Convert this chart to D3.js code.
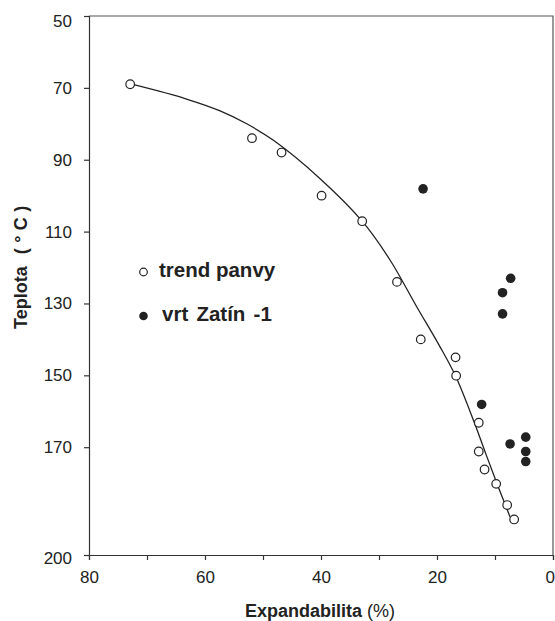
<!DOCTYPE html>
<html>
<head>
<meta charset="utf-8">
<script src="https://cdn.jsdelivr.net/npm/d3@7/dist/d3.min.js"></script>
<style>
  html, body { margin: 0; padding: 0; background: #fff; }
  svg { display: block; font-family: "Liberation Sans", Arial, Helvetica, sans-serif; }
</style>
</head>
<body>
<svg id="chart" width="555" height="621"></svg>
<script>
// ---- data ----
const trendX = [72.9, 51.9, 46.8, 39.9, 32.9, 26.9, 22.8, 16.8, 16.7, 12.8, 12.8, 11.8, 9.8, 7.9, 6.7];
const trendY = [69.0, 84.0, 88.0, 100.0, 107.1, 124.0, 140.0, 145.0, 150.1, 163.2, 171.2, 176.2, 180.2, 186.1, 190.1];

const zatinX = [22.4, 7.3, 8.7, 8.7, 12.3, 7.4, 4.7, 4.7, 4.7];
const zatinY = [98.1, 123.0, 127.0, 132.9, 158.1, 169.1, 167.2, 171.2, 174.0];

// fitted trend line
const curveX = [72.1, 63.2, 57.4, 52.8, 48.2, 40.2, 32.9, 28.1, 23.5, 19.5, 16.8, 13.6, 11.55, 9.5, 7.4];
const curveY = [69.2, 73.1, 76.4, 80.0, 84.6, 95.2, 107.1, 117.9, 130.9, 142.0, 150.2, 163.0, 172.0, 180.8, 189.4];

const xTicks = [80, 70, 60, 50, 40, 30, 20, 10, 0];
const xTickLabels = [80, 60, 40, 20, 0];
const yTicks = [50, 70, 90, 110, 130, 150, 170, 200];

const legendLabels = ["trend panvy", "vrt Zatín -1"];
const xTitle = "Expandabilita";
const xTitleUnit = "(%)";
const yTitle = "Teplota";
const yTitleUnit = "(°C)";

// ---- chart ----
const svg = d3.select("#chart");
const mLeft = 89, mRight = 553, mTop = 16, mBottom = 555;
const ink = "#222";

const x = d3.scaleLinear().domain([80, 0]).range([mLeft, mRight]);
const y = d3.scaleLinear().domain([50, 200]).range([mTop, mBottom]);

// frame
svg.append("path")
  .attr("d", `M${mLeft},${mTop}H${mRight}V${mBottom}`)
  .attr("fill", "none").attr("stroke", "#555").attr("stroke-width", 1.2);

// x axis
const xAxis = svg.append("g").attr("transform", `translate(0,${mBottom})`)
  .call(d3.axisBottom(x).tickValues(xTicks).tickSize(5).tickPadding(11)
    .tickFormat(d => xTickLabels.includes(d) ? d : ""));
xAxis.select(".domain").attr("stroke", "#333").attr("stroke-width", 1.2);
xAxis.selectAll(".tick line").attr("stroke", "#333").attr("stroke-width", 1.2);
xAxis.selectAll("text").attr("font-size", 17).attr("fill", ink)
  .attr("font-family", "\"Liberation Sans\", Arial, sans-serif");
xAxis.selectAll(".tick").filter(d => d === 0).select("text")
  .attr("text-anchor", "end").attr("dx", 1.5);

// y axis
const yAxis = svg.append("g").attr("transform", `translate(${mLeft},0)`)
  .call(d3.axisLeft(y).tickValues(yTicks).tickSize(5).tickPadding(12));
yAxis.select(".domain").attr("stroke", "#333").attr("stroke-width", 1.2);
yAxis.selectAll(".tick line").attr("stroke", "#333").attr("stroke-width", 1.2);
yAxis.selectAll("text").attr("font-size", 17).attr("fill", ink)
  .attr("font-family", "\"Liberation Sans\", Arial, sans-serif")
  .attr("dy", d => d === 50 ? "0.62em" : (d === 200 ? "0.5em" : "0.32em"));

// trend curve
const curveData = curveX.map((v, i) => [v, curveY[i]]);
svg.append("path")
  .datum(curveData)
  .attr("fill", "none").attr("stroke", ink).attr("stroke-width", 1.3)
  .attr("d", d3.line().x(d => x(d[0])).y(d => y(d[1])).curve(d3.curveCatmullRom.alpha(0.5)));

// open circles
svg.append("g").selectAll("circle")
  .data(trendX.map((v, i) => [v, trendY[i]]))
  .join("circle")
  .attr("cx", d => x(d[0])).attr("cy", d => y(d[1])).attr("r", 4.3)
  .attr("fill", "#fff").attr("stroke", ink).attr("stroke-width", 1.2);

// filled circles
svg.append("g").selectAll("circle")
  .data(zatinX.map((v, i) => [v, zatinY[i]]))
  .join("circle")
  .attr("cx", d => x(d[0])).attr("cy", d => y(d[1])).attr("r", 4.8)
  .attr("fill", ink);

// legend
const lg = svg.append("g");
lg.append("circle").attr("cx", 143.5).attr("cy", 272).attr("r", 3.8)
  .attr("fill", "#fff").attr("stroke", ink).attr("stroke-width", 1.2);
lg.append("text").attr("x", 159).attr("y", 277).attr("font-size", 20.5)
  .attr("font-weight", "bold").attr("fill", ink).text(legendLabels[0]);
lg.append("circle").attr("cx", 143.5).attr("cy", 316).attr("r", 4.3).attr("fill", ink);
lg.append("text").attr("x", 162).attr("y", 321).attr("font-size", 20.5)
  .attr("font-weight", "bold").attr("word-spacing", 2.5).attr("fill", ink).text(legendLabels[1]);

// axis titles
const xt = svg.append("text").attr("x", 320).attr("y", 617).attr("text-anchor", "middle")
  .attr("font-size", 18).attr("fill", ink);
xt.append("tspan").attr("font-weight", "bold").text(xTitle + " ");
xt.append("tspan").text(xTitleUnit);

const yt = svg.append("text").attr("transform", "translate(27,329) rotate(-90)")
  .attr("text-anchor", "start").attr("font-size", 18).attr("font-weight", "bold").attr("fill", ink);
yt.append("tspan").text(yTitle);
yt.append("tspan").attr("dx", 12).attr("letter-spacing", 5.5).text(yTitleUnit);
</script>
</body>
</html>
